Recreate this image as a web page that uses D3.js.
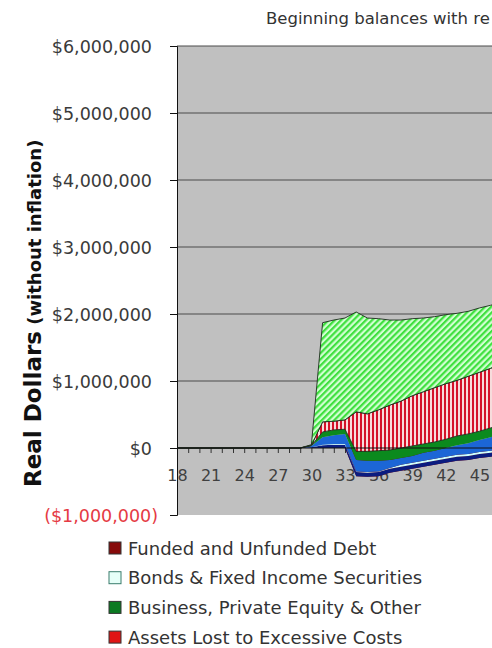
<!doctype html>
<html lang='en'>
  <head>
    <meta charset='utf-8'>
    <title>Real Dollars (without inflation)</title>
    <script src='https://d3js.org/d3.v7.min.js'></script>
    <style>
      body { margin: 0; background: #fff; }
      svg { display: block; font-family: 'DejaVu Sans', sans-serif; }
    </style>
  </head>
  <body>
    <svg width='492' height='648'></svg>
    <script>
      // ages on the category axis, values in thousands of real dollars
      var ages = [18, 19, 20, 21, 22, 23, 24, 25, 26, 27, 28, 29, 30, 31, 32, 33, 34, 35, 36, 37, 38, 39, 40, 41, 42, 43, 44, 45, 46, 47];
      var ageLabels = [18, 21, 24, 27, 30, 33, 36, 39, 42, 45];
      var yTicks = [-1000000, 0, 1000000, 2000000, 3000000, 4000000, 5000000, 6000000];

      var debt       = [0,0,0,0,0,0,0,0,0,0,0,0, 0, 0, 0, 0, -420, -430, -420, -370, -340, -310, -280, -250, -220, -190, -180, -150, -130, -100];
      var cash       = [0,0,0,0,0,0,0,0,0,0,0,0, 10, 40, 50, 50, 60, 60, 60, 60, 60, 60, 60, 60, 60, 60, 60, 60, 60, 60];
      var bonds      = [0,0,0,0,0,0,0,0,0,0,0,0, 0, 10, 10, 10, 10, 10, 10, 10, 30, 30, 30, 30, 30, 30, 30, 30, 30, 30];
      var stocks     = [0,0,0,0,0,0,0,0,0,0,0,0, 20, 110, 130, 150, 170, 170, 160, 120, 100, 100, 120, 120, 130, 140, 160, 180, 200, 220];
      var business   = [0,0,0,0,0,0,0,0,0,0,0,0, 5, 80, 80, 70, 130, 140, 150, 150, 150, 150, 130, 130, 130, 140, 140, 130, 140, 130];
      var costs      = [0,0,0,0,0,0,0,0,0,0,0,0, 5, 150, 130, 140, 590, 560, 610, 670, 700, 750, 780, 810, 830, 830, 860, 880, 890, 910];
      var retirement = [0,0,0,0,0,0,0,0,0,0,0,0, 10, 1480, 1510, 1520, 1490, 1430, 1360, 1270, 1210, 1150, 1100, 1060, 1030, 1000, 970, 960, 940, 930];

      var legendItems = ['Funded and Unfunded Debt', 'Bonds & Fixed Income Securities', 'Business, Private Equity & Other', 'Assets Lost to Excessive Costs'];
      var legendColor = {
        'Funded and Unfunded Debt': '#860a0a',
        'Bonds & Fixed Income Securities': '#e6fff8',
        'Business, Private Equity & Other': '#0b7a22',
        'Assets Lost to Excessive Costs': '#e01414'
      };

      var keys = ['debt', 'cash', 'bonds', 'stocks', 'business', 'costs', 'retirement'];
      var series = {debt: debt, cash: cash, bonds: bonds, stocks: stocks, business: business, costs: costs, retirement: retirement};
      var fills = {
        debt: '#800000',
        cash: '#0b1c80',
        bonds: '#ccffff',
        stocks: '#1c66d6',
        business: '#0b8a1e',
        costs: 'url(#redStripes)',
        retirement: 'url(#greenHatch)'
      };

      var rows = ages.map(function(a, i) {
        var r = {age: a};
        keys.forEach(function(k) { r[k] = series[k][i] * 1000; });
        return r;
      });

      var svg = d3.select('svg'),
          plotLeft = 177, plotTop = 46, plotBottom = 515, plotWidth = 340;

      var x = d3.scaleLinear().domain([18, 47]).range([plotLeft, plotLeft + 11.2 * 29]);
      var y = d3.scaleLinear().domain([-1000000, 6000000]).range([plotBottom, plotTop]);

      var defs = svg.append('defs');
      var stripes = defs.append('pattern')
        .attr('id', 'redStripes')
        .attr('patternUnits', 'userSpaceOnUse')
        .attr('width', 4).attr('height', 4);
      stripes.append('rect').attr('width', 4).attr('height', 4).attr('fill', '#f7dcdc');
      stripes.append('rect').attr('width', 2).attr('height', 4).attr('fill', '#d4122a');

      var hatch = defs.append('pattern')
        .attr('id', 'greenHatch')
        .attr('patternUnits', 'userSpaceOnUse')
        .attr('width', 4.4).attr('height', 4.4)
        .attr('patternTransform', 'rotate(45)');
      hatch.append('rect').attr('width', 4.4).attr('height', 4.4).attr('fill', '#d2ffd2');
      hatch.append('rect').attr('width', 2.2).attr('height', 4.4).attr('fill', '#3fe03f');

      // plot area
      svg.append('rect')
        .attr('x', plotLeft)
        .attr('y', plotTop)
        .attr('width', plotWidth)
        .attr('height', plotBottom - plotTop)
        .attr('fill', '#c0c0c0');

      svg.append('g')
        .selectAll('line')
        .data(yTicks.filter(function(d) { return d > 0; }))
        .enter().append('line')
        .attr('x1', plotLeft)
        .attr('x2', plotLeft + plotWidth)
        .attr('y1', function(d) { return y(d); })
        .attr('y2', function(d) { return y(d); })
        .attr('stroke', '#4a4a4a')
        .attr('stroke-width', 1);

      // category axis ticks + labels sit under the areas
      var xAxis = svg.append('g')
        .attr('transform', 'translate(0,' + y(0) + ')')
        .call(d3.axisBottom(x)
          .tickValues(ages)
          .tickSize(5)
          .tickPadding(16.5)
          .tickFormat(function(d) { return ageLabels.indexOf(d) >= 0 ? d : ''; }));
      xAxis.select('.domain').remove();
      xAxis.attr('font-family', null).attr('font-size', 16);
      xAxis.selectAll('line').attr('stroke', '#333');
      xAxis.selectAll('text').attr('fill', '#404040');

      var stack = d3.stack().keys(keys)(rows);

      var area = d3.area()
        .x(function(d) { return x(d.data.age); })
        .y0(function(d) { return y(d[0]); })
        .y1(function(d) { return y(d[1]); });

      svg.append('g')
        .selectAll('path')
        .data(stack)
        .enter().append('path')
        .attr('fill', function(d) { return fills[d.key]; })
        .attr('stroke', function(d) { return (d.key === 'costs' || d.key === 'retirement') ? '#1d2b1d' : 'none'; })
        .attr('stroke-width', 0.9)
        .attr('stroke-linejoin', 'round')
        .attr('d', area);

      // zero line drawn over the areas
      svg.append('line')
        .attr('x1', plotLeft)
        .attr('x2', plotLeft + plotWidth)
        .attr('y1', y(0))
        .attr('y2', y(0))
        .attr('stroke', '#111')
        .attr('stroke-width', 1.2);

      var yAxis = svg.append('g')
        .attr('transform', 'translate(' + plotLeft + ',0)')
        .call(d3.axisLeft(y)
          .tickValues(yTicks)
          .tickSize(7)
          .tickPadding(18)
          .tickFormat(function(d) {
            var s = '$' + d3.format(',')(Math.abs(d));
            return d < 0 ? '(' + s + ')' : s;
          }));
      yAxis.attr('font-family', null).attr('font-size', 17.5);
      yAxis.select('.domain').attr('stroke', '#111');
      yAxis.selectAll('line').attr('stroke', '#111');
      yAxis.selectAll('text')
        .attr('fill', function(d) { return d < 0 ? '#e53a44' : '#3a3a3a'; })
        .attr('x', function(d) { return d < 0 ? -19 : -25; })
        .attr('dy', '0.36em');

      var yTitle = svg.append('text')
        .attr('transform', 'translate(41,487) rotate(-90)')
        .attr('font-weight', 'bold')
        .attr('fill', '#111');
      yTitle.append('tspan').attr('font-size', 23).text('Real Dollars');
      yTitle.append('tspan').attr('font-size', 18).text(' (without inflation)');

      svg.append('text')
        .attr('x', 266)
        .attr('y', 24)
        .attr('font-size', 16.5)
        .attr('fill', '#333')
        .text('Beginning balances with re');

      var legend = svg.append('g')
        .selectAll('g')
        .data(legendItems)
        .enter().append('g')
        .attr('transform', function(d, i) { return 'translate(0,' + (548 + i * 29.7) + ')'; });

      legend.append('rect')
        .attr('x', 109)
        .attr('y', -6)
        .attr('width', 12)
        .attr('height', 12)
        .attr('fill', function(d) { return legendColor[d]; })
        .attr('stroke', function(d, i) { return i === 1 ? '#3a7d6d' : '#333'; })
        .attr('stroke-width', 1);

      legend.append('text')
        .attr('x', 128)
        .attr('y', 6.5)
        .attr('font-size', 18)
        .attr('fill', '#333')
        .text(function(d) { return d; });
    </script>
  </body>
</html>
